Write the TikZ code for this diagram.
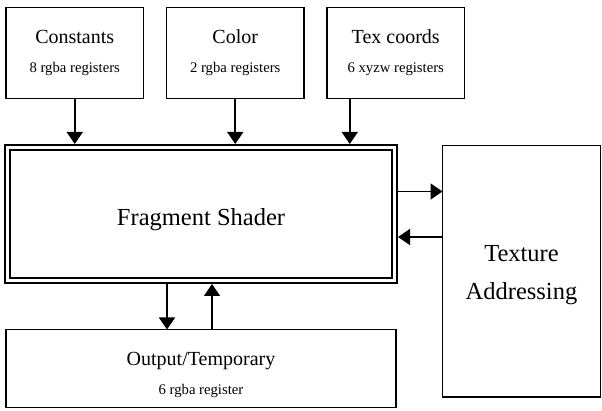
\documentclass[tikz,border=0pt]{standalone}
\usepackage{fontspec}
\setmainfont{Liberation Serif}
\usetikzlibrary{arrows.meta,positioning}

\newcommand{\titlefont}{\fontsize{20}{24}\selectfont}
\newcommand{\regfont}{\fontsize{14.7}{17}\selectfont}
\newcommand{\bigfont}{\fontsize{24.5}{38}\selectfont}

\begin{document}
\begin{tikzpicture}[
    >={Triangle[length=12pt,width=16pt]},
    box/.style={draw, line width=1.8pt, inner sep=0pt, outer sep=0pt, align=center,
                minimum width=137.5pt, minimum height=91pt, font=\titlefont},
    arr/.style={->, line width=1.6pt},
  ]
  \useasboundingbox (0,0) rectangle (602pt,-411pt);

  % Shader core
  \node[draw, double, line width=2.2pt, double distance=3pt, outer sep=3.7pt,
        minimum width=386.6pt, minimum height=132.6pt, font=\bigfont,
        text height=24pt, text depth=0pt] (frag) at (201pt,-214pt) {Fragment Shader};

  % Input registers
  \node[box, above right=45.5pt and 2pt of frag.north west] (cst)
    {Constants\\[5pt]{\regfont 8 rgba registers}};
  \node[box, right=23pt of cst] (col)
    {Color\\[5pt]{\regfont 2 rgba registers}};
  \node[box, right=23pt of col] (tex)
    {Tex coords\\[5pt]{\regfont 6 xyzw registers}};

  % Side unit and output
  \node[box, below right=1.5pt and 44.5pt of frag.north east, anchor=north west,
        minimum width=158pt, minimum height=251.5pt, font=\bigfont] (tx)
    {\rule{0pt}{23pt}Texture\\Addressing};
  \node[box, below right=45.5pt and 2pt of frag.south west, anchor=north west,
        minimum width=390pt, minimum height=78pt] (out)
    {\rule{0pt}{26pt}Output/Temporary\\[5pt]{\regfont 6 rgba register}};

  \draw[arr] (cst.south) -- (cst.south |- frag.north);
  \draw[arr] (col.south) -- (col.south |- frag.north);
  \draw[arr] ([xshift=-46pt]tex.south) -- ([xshift=-46pt]tex.south |- frag.north);

  \draw[arr] ([yshift=22.5pt]frag.east) -- ([yshift=22.5pt]frag.east -| tx.west);
  \draw[arr] ([yshift=-23pt]frag.east -| tx.west) -- ([yshift=-23pt]frag.east);

  \draw[arr] ([xshift=-34pt]frag.south) -- ([xshift=-34pt]frag.south |- out.north);
  \draw[arr] ([xshift=11pt]frag.south |- out.north) -- ([xshift=11pt]frag.south);
\end{tikzpicture}
\end{document}
